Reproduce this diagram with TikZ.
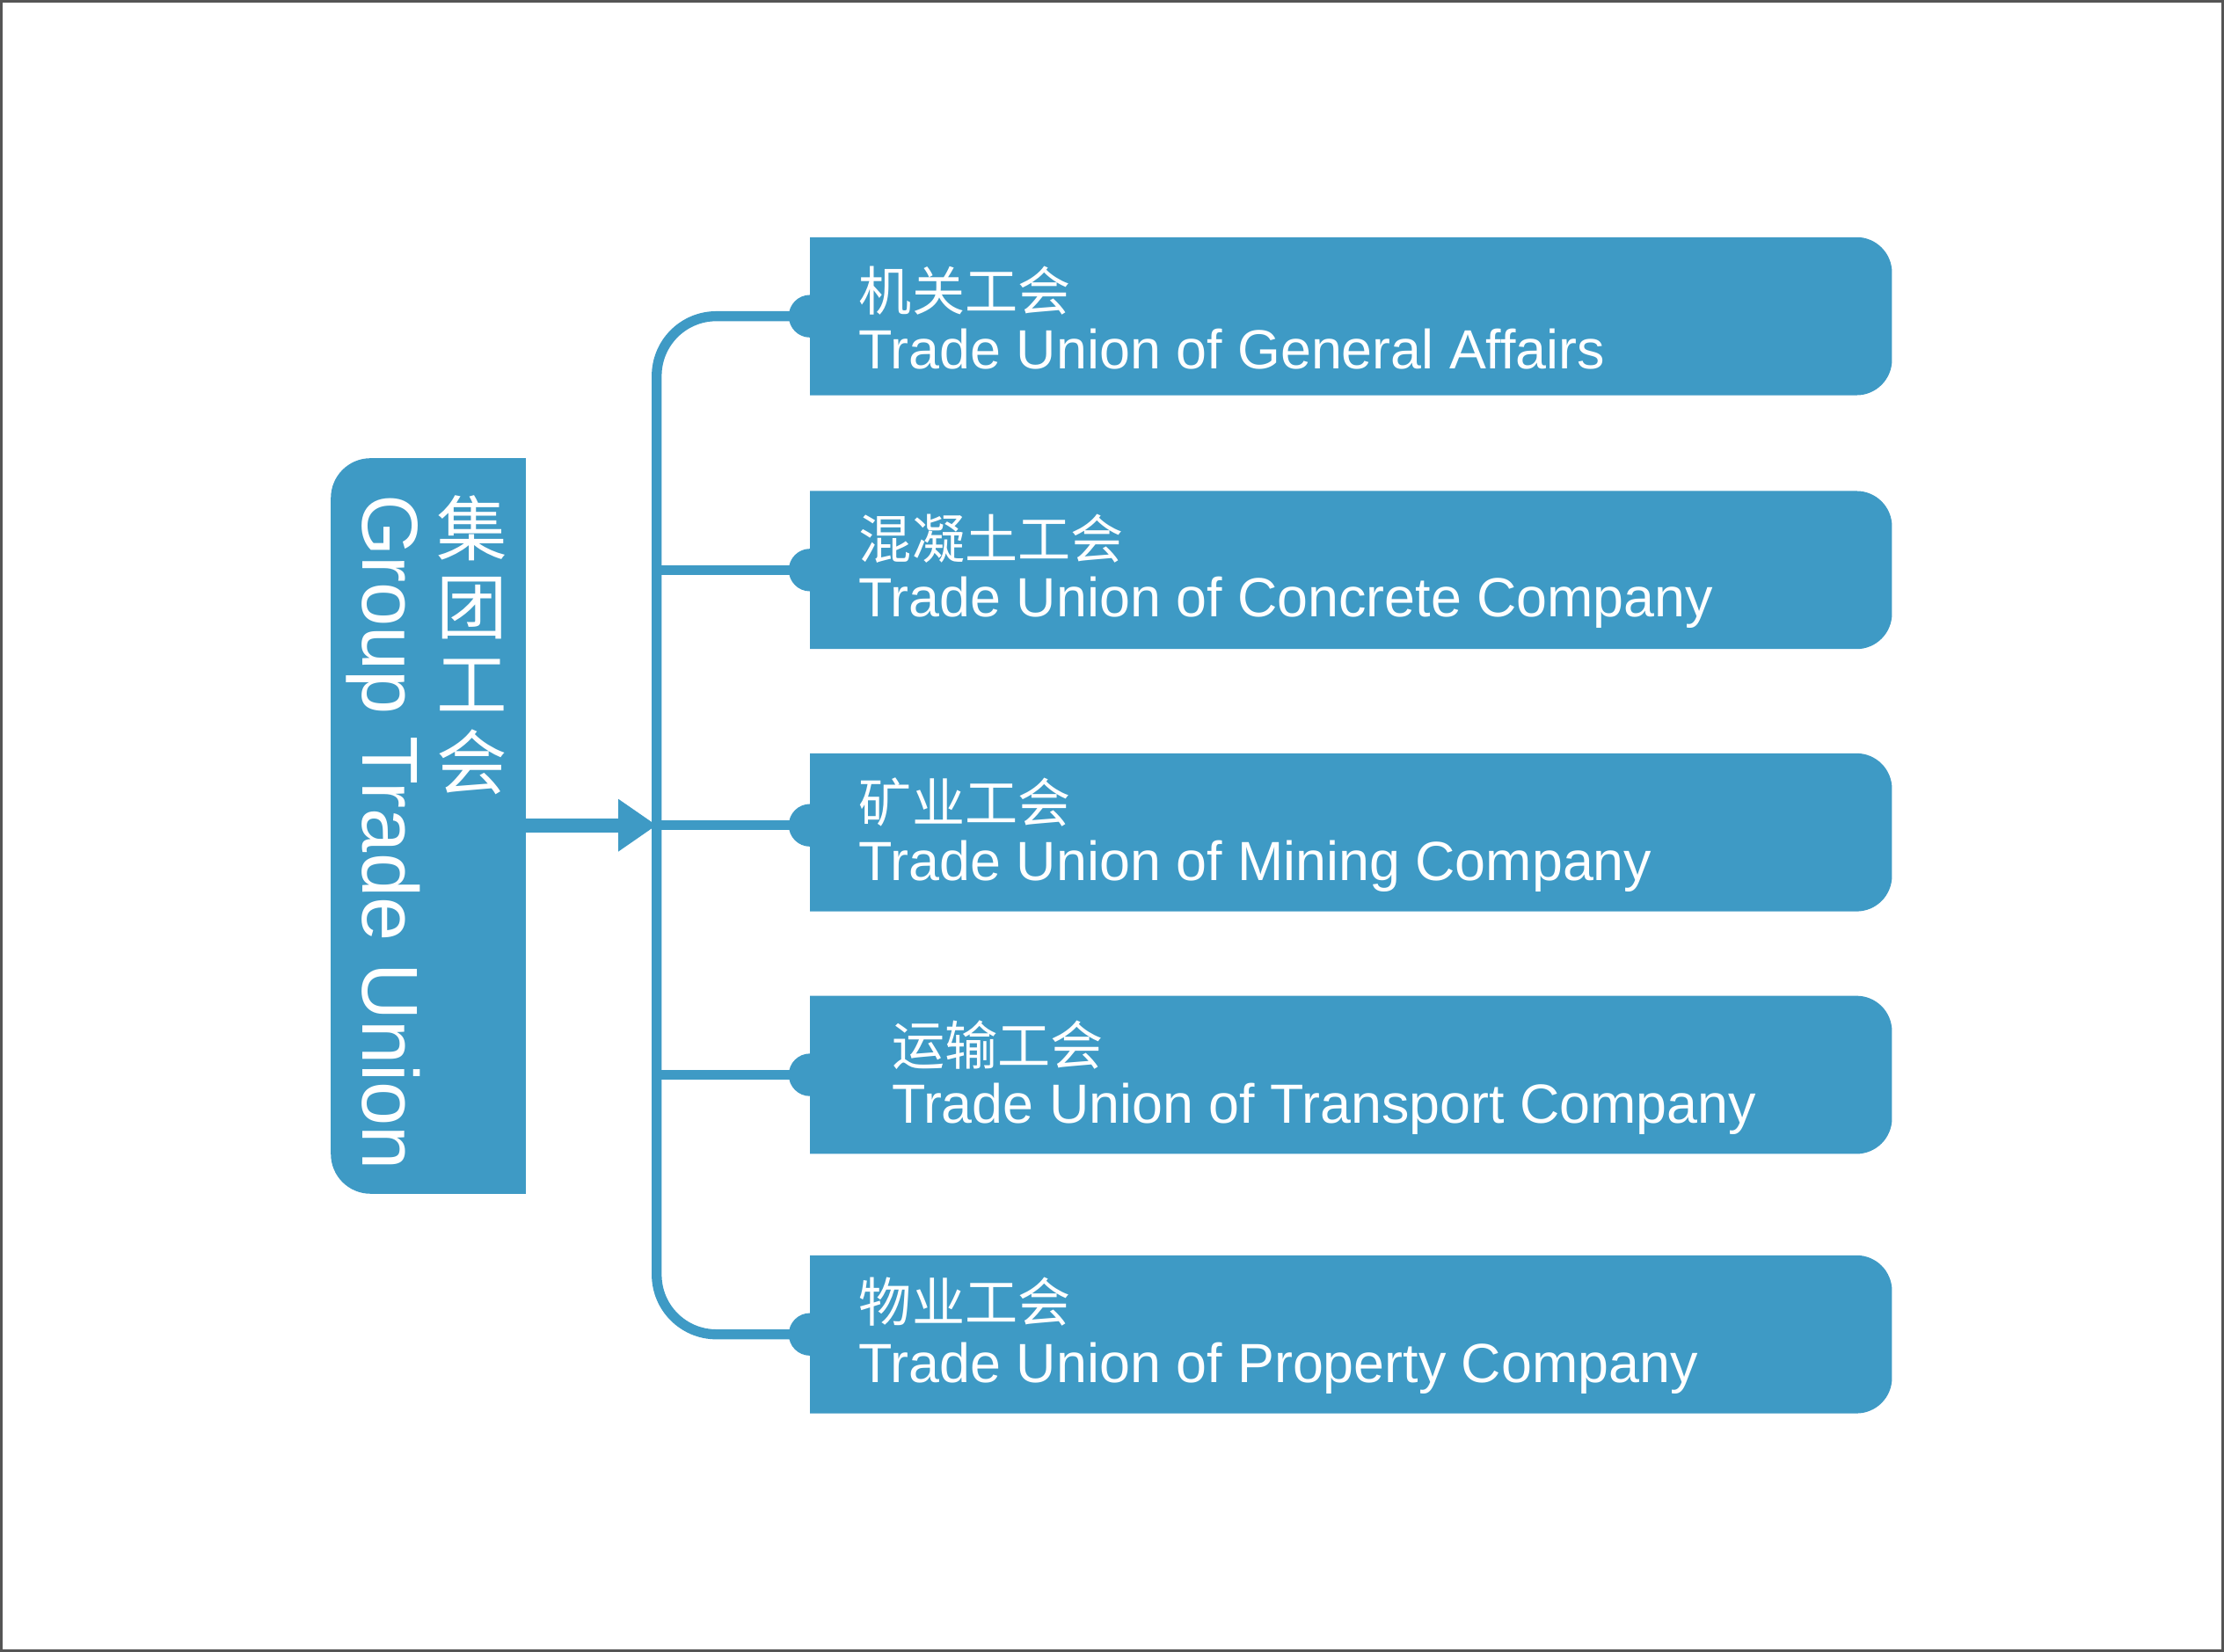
\documentclass[tikz,border=0pt]{standalone}
\usepackage{fontspec}
\setmainfont{Liberation Sans}
\newfontfamily\cjk{Noto Sans CJK SC}
\usetikzlibrary{arrows.meta,positioning}
\definecolor{unionblue}{RGB}{62,154,197}
\definecolor{framegray}{RGB}{85,85,85}

\begin{document}
\begin{tikzpicture}[x=0.01cm,y=-0.01cm,
    unitbox/.style={minimum width=7.61cm, minimum height=1.10cm, inner sep=0pt},
    cnlabel/.style={font=\cjk\fontsize{10.6}{12}\selectfont, text=white, anchor=west, inner sep=0pt},
    enlabel/.style={font=\fontsize{11.07}{13}\selectfont, text=white, anchor=base west, inner sep=0pt},
    bus/.style={draw=unionblue, line width=2pt}]

    \useasboundingbox (0,0) rectangle (1568,1165);
    % frame
    \draw[framegray, line width=0.5pt] (1,1) rectangle (1567,1164);

    % Group box
    \node[minimum width=1.36cm, minimum height=5.17cm, inner sep=0pt] (grp) at (302,582.5) {};
    \fill[unionblue] (grp.north east) -- ([xshift=0.28cm]grp.north west)
        arc[start angle=90, end angle=180, radius=0.28cm]
        -- ([yshift=0.28cm]grp.south west)
        arc[start angle=180, end angle=270, radius=0.28cm]
        -- (grp.south east) -- cycle;
    \node[font=\cjk\fontsize{14.2}{15.6}\selectfont, text=white, align=center, inner sep=0pt] (grpcn) at (333,455) {集\\团\\工\\会};
    \node[font=\fontsize{15.9}{18}\selectfont, text=white, rotate=-90, anchor=base west, inner sep=0pt] (grpen) at (256,348) {Group Trade Union};

    % Union boxes
    \node[unitbox] (gen) at (952.5,223) {};
    \node[unitbox] (con) at (952.5,402) {};
    \node[unitbox] (min) at (952.5,587) {};
    \node[unitbox] (tra) at (952.5,758) {};
    \node[unitbox] (pro) at (952.5,941) {};
    \foreach \name in {gen,con,min,tra,pro} {
        \fill[unionblue] (\name.north west) -- ([xshift=-0.25cm]\name.north east)
            arc[start angle=90, end angle=0, radius=0.25cm]
            -- ([yshift=0.25cm]\name.south east)
            arc[start angle=0, end angle=-90, radius=0.25cm]
            -- (\name.south west) -- cycle;
    }

    % Spine and branches
    \coordinate (spine) at (463,582);
    \draw[bus, rounded corners=0.42cm] (gen.west) -| (spine) |- (pro.west);
    \draw[bus] (con.west -| spine) -- (con.west);
    \draw[bus] (spine) -- (spine -| min.west);
    \draw[bus] (tra.west -| spine) -- (tra.west);

    % Tabs
    \foreach \p in {gen.west,con.west,tra.west,pro.west}
        \fill[unionblue] (\p) circle (0.15cm);
    \fill[unionblue] (spine -| min.west) circle (0.15cm);

    % Arrow to spine
    \draw[-{Triangle[length=7.7pt,width=10pt]}, unionblue, line width=2.85pt] (spine -| grp.east) -- (spine);

    % Labels
    \node[cnlabel] (gencn) at (605,205) {机关工会};
    \node[enlabel] (genen) at (605,260) {Trade Union of General Affairs};
    \node[cnlabel] (concn) at (605,380) {混凝土工会};
    \node[enlabel] (conen) at (605,435) {Trade Union of Concrete Company};
    \node[cnlabel] (mincn) at (605,566) {矿业工会};
    \node[enlabel] (minen) at (605,621) {Trade Union of Mining Company};
    \node[cnlabel] (tracn) at (628,737) {运输工会};
    \node[enlabel] (traen) at (628,792) {Trade Union of Transport Company};
    \node[cnlabel] (procn) at (605,918) {物业工会};
    \node[enlabel] (proen) at (605,975) {Trade Union of Property Company};
\end{tikzpicture}
\end{document}
